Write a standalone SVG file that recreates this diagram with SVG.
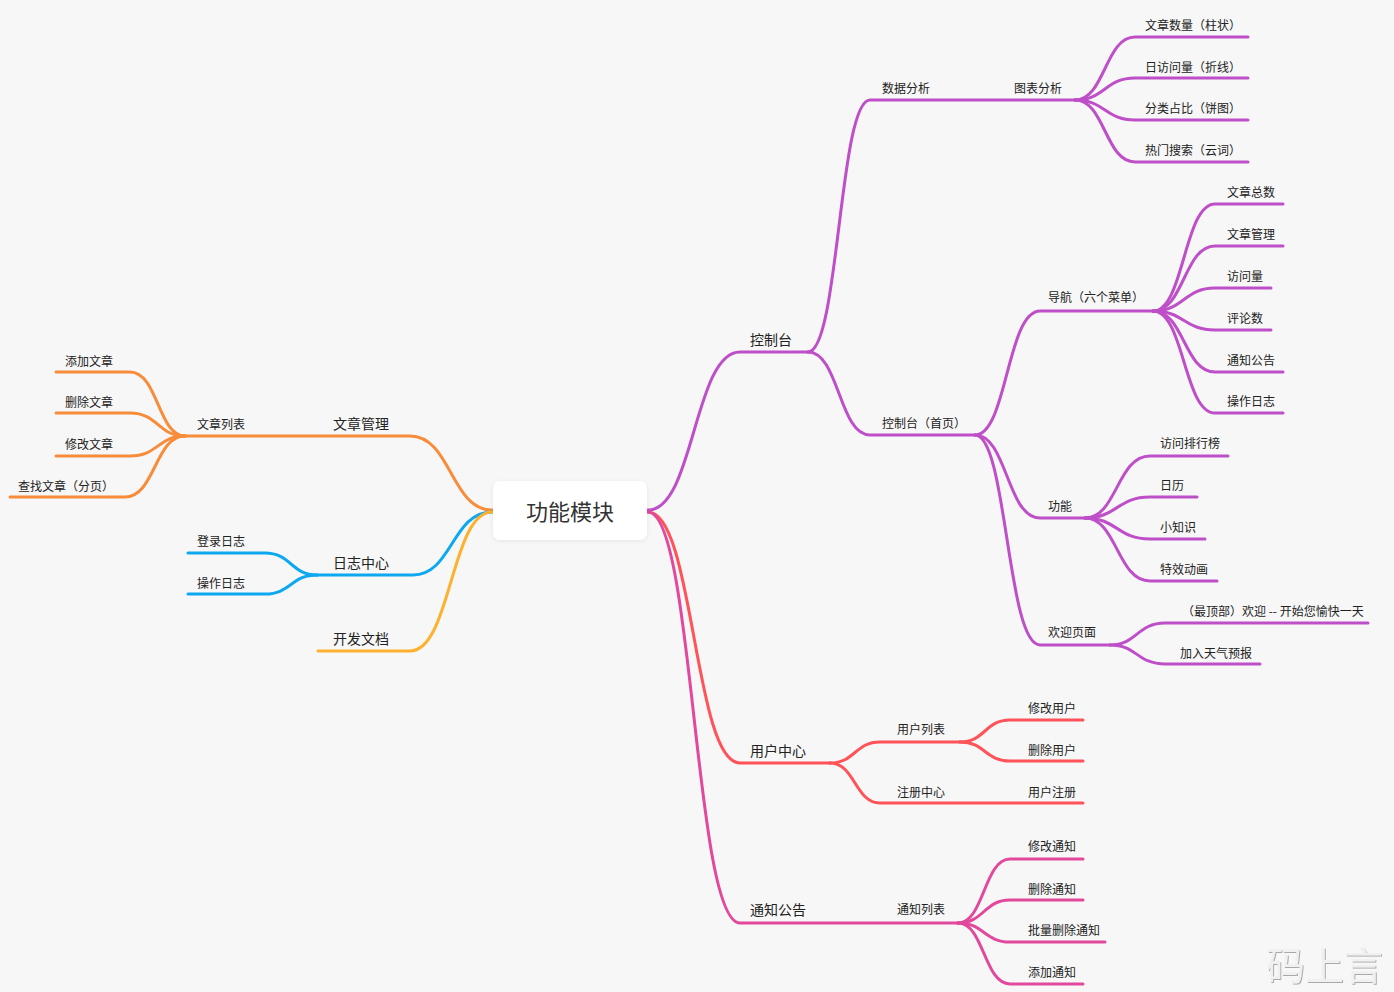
<svg xmlns="http://www.w3.org/2000/svg" width="1394" height="992" viewBox="0 0 1394 992">
<defs>
<style>
.c{fill:none;stroke-width:3;stroke-linecap:round;stroke-linejoin:round}
.o{stroke:#F78C3A}.b{stroke:#0DA8F0}.y{stroke:#FDB22F}.p{stroke:#BE4FC8}.r{stroke:#FF5259}.k{stroke:#E2489C}
text{font-family:"Noto Sans CJK SC","Microsoft YaHei",sans-serif;fill:#222}
.s{font-size:12px}.m{font-size:14px}
</style>
<filter id="sh" x="-10%" y="-20%" width="120%" height="150%"><feDropShadow dx="0" dy="1" stdDeviation="2" flood-color="#000" flood-opacity="0.08"/></filter>
<filter id="wm" x="-10%" y="-10%" width="120%" height="130%"><feDropShadow dx="1" dy="1" stdDeviation="0.6" flood-color="#888" flood-opacity="0.7"/></filter>
</defs>
<rect width="1394" height="992" fill="#F7F7F7"/>
<g id="connectors">
<path class="c o" d="M492,510 C451,510 451,436 410,436 H185"/>
<path class="c o" d="M185,436 C158,436 158,372 130,372 H56"/>
<path class="c o" d="M185,436 C158,436 158,413 130,413 H56"/>
<path class="c o" d="M185,436 C158,436 158,456 130,456 H56"/>
<path class="c o" d="M185,436 C155,436 155,497 125,497 H10"/>
<path class="c b" d="M492,512 C452,512 452,575 413,575 H317"/>
<path class="c b" d="M317,575 C291,575 291,553 265,553 H188"/>
<path class="c b" d="M317,575 C291,575 291,594 265,594 H188"/>
<path class="c y" d="M492,512 C451,512 451,651 410,651 H318"/>
<path class="c p" d="M648,510 C694,510 694,352 740,352 H808"/>
<path class="c p" d="M808,352 C839,352 839,100 870,100 H1075"/>
<path class="c p" d="M1075,100 C1105,100 1105,37 1135,37 H1248"/>
<path class="c p" d="M1075,100 C1105,100 1105,78 1135,78 H1248"/>
<path class="c p" d="M1075,100 C1105,100 1105,120 1135,120 H1248"/>
<path class="c p" d="M1075,100 C1105,100 1105,162 1135,162 H1248"/>
<path class="c p" d="M808,352 C839,352 839,435 870,435 H975"/>
<path class="c p" d="M975,435 C1007,435 1007,311 1040,311 H1153"/>
<path class="c p" d="M1153,311 C1184,311 1184,204 1215,204 H1283"/>
<path class="c p" d="M1153,311 C1184,311 1184,246 1215,246 H1283"/>
<path class="c p" d="M1153,311 C1184,311 1184,288 1215,288 H1271"/>
<path class="c p" d="M1153,311 C1184,311 1184,330 1215,330 H1271"/>
<path class="c p" d="M1153,311 C1184,311 1184,372 1215,372 H1283"/>
<path class="c p" d="M1153,311 C1184,311 1184,413 1215,413 H1283"/>
<path class="c p" d="M975,435 C1007,435 1007,518 1040,518 H1085"/>
<path class="c p" d="M1085,518 C1117,518 1117,456 1150,456 H1228"/>
<path class="c p" d="M1085,518 C1117,518 1117,497 1150,497 H1197"/>
<path class="c p" d="M1085,518 C1117,518 1117,539 1150,539 H1205"/>
<path class="c p" d="M1085,518 C1117,518 1117,581 1150,581 H1217"/>
<path class="c p" d="M975,435 C1007,435 1007,645 1040,645 H1110"/>
<path class="c p" d="M1110,645 C1137,645 1137,623 1165,623 H1368"/>
<path class="c p" d="M1110,645 C1137,645 1137,664 1165,664 H1260"/>
<path class="c r" d="M648,512 C694,512 694,763 740,763 H830"/>
<path class="c r" d="M830,763 C855,763 855,742 880,742 H960"/>
<path class="c r" d="M960,742 C985,742 985,720 1010,720 H1083"/>
<path class="c r" d="M960,742 C985,742 985,761 1010,761 H1083"/>
<path class="c r" d="M830,763 C855,763 855,803 880,803 H1083"/>
<path class="c k" d="M648,512 C694,512 694,923 740,923 H958"/>
<path class="c k" d="M958,923 C984,923 984,859 1010,859 H1083"/>
<path class="c k" d="M958,923 C984,923 984,900 1010,900 H1083"/>
<path class="c k" d="M958,923 C984,923 984,942 1010,942 H1105"/>
<path class="c k" d="M958,923 C984,923 984,984 1010,984 H1083"/>
</g>
<g id="root"><rect x="493" y="481" width="154" height="59" rx="7" fill="#fff" filter="url(#sh)"/><text x="570" y="520" font-size="22" text-anchor="middle" style="fill:#333">功能模块</text></g>
<g id="n-wzgl"><text class="m" x="333" y="429">文章管理</text></g>
<g id="n-wzlb"><text class="s" x="197" y="429">文章列表</text></g>
<g id="n-tjwz"><text class="s" x="65" y="366">添加文章</text></g>
<g id="n-scwz"><text class="s" x="65" y="407">删除文章</text></g>
<g id="n-xgwz"><text class="s" x="65" y="449">修改文章</text></g>
<g id="n-czwz"><text class="s" x="18" y="491">查找文章（分页）</text></g>
<g id="n-rzzx"><text class="m" x="333" y="568">日志中心</text></g>
<g id="n-dlrz"><text class="s" x="197" y="546">登录日志</text></g>
<g id="n-czrz"><text class="s" x="197" y="588">操作日志</text></g>
<g id="n-kfwd"><text class="m" x="333" y="644">开发文档</text></g>
<g id="n-kzt"><text class="m" x="750" y="345">控制台</text></g>
<g id="n-sjfx"><text class="s" x="882" y="93">数据分析</text></g>
<g id="n-tbfx"><text class="s" x="1014" y="93">图表分析</text></g>
<g id="n-wzsl"><text class="s" x="1145" y="30">文章数量（柱状）</text></g>
<g id="n-rfwl"><text class="s" x="1145" y="72">日访问量（折线）</text></g>
<g id="n-flzb"><text class="s" x="1145" y="113">分类占比（饼图）</text></g>
<g id="n-rmss"><text class="s" x="1145" y="155">热门搜索（云词）</text></g>
<g id="n-kztsy"><text class="s" x="882" y="428">控制台（首页）</text></g>
<g id="n-dh"><text class="s" x="1048" y="302">导航（六个菜单）</text></g>
<g id="n-wzzs"><text class="s" x="1227" y="197">文章总数</text></g>
<g id="n-wzgl2"><text class="s" x="1227" y="239">文章管理</text></g>
<g id="n-fwl"><text class="s" x="1227" y="281">访问量</text></g>
<g id="n-pls"><text class="s" x="1227" y="323">评论数</text></g>
<g id="n-tzgg2"><text class="s" x="1227" y="365">通知公告</text></g>
<g id="n-czrz2"><text class="s" x="1227" y="406">操作日志</text></g>
<g id="n-gn"><text class="s" x="1048" y="511">功能</text></g>
<g id="n-fwphb"><text class="s" x="1160" y="448">访问排行榜</text></g>
<g id="n-rl"><text class="s" x="1160" y="490">日历</text></g>
<g id="n-xzs"><text class="s" x="1160" y="532">小知识</text></g>
<g id="n-txdh"><text class="s" x="1160" y="574">特效动画</text></g>
<g id="n-hyym"><text class="s" x="1048" y="637">欢迎页面</text></g>
<g id="n-zdb"><text class="s" x="1182" y="616">（最顶部）欢迎 -- 开始您愉快一天</text></g>
<g id="n-tqyb"><text class="s" x="1180" y="658">加入天气预报</text></g>
<g id="n-yhzx"><text class="m" x="750" y="756">用户中心</text></g>
<g id="n-yhlb"><text class="s" x="897" y="734">用户列表</text></g>
<g id="n-xgyh"><text class="s" x="1028" y="713">修改用户</text></g>
<g id="n-scyh"><text class="s" x="1028" y="755">删除用户</text></g>
<g id="n-zczx"><text class="s" x="897" y="797">注册中心</text></g>
<g id="n-yhzc"><text class="s" x="1028" y="797">用户注册</text></g>
<g id="n-tzgg"><text class="m" x="750" y="915">通知公告</text></g>
<g id="n-tzlb"><text class="s" x="897" y="914">通知列表</text></g>
<g id="n-xgtz"><text class="s" x="1028" y="851">修改通知</text></g>
<g id="n-sctz"><text class="s" x="1028" y="894">删除通知</text></g>
<g id="n-plsc"><text class="s" x="1028" y="935">批量删除通知</text></g>
<g id="n-tjtz"><text class="s" x="1028" y="977">添加通知</text></g>
<g id="watermark"><text x="1266" y="980" font-size="39" style="fill:#F0F0F0" filter="url(#wm)">码上言</text></g>
</svg>
